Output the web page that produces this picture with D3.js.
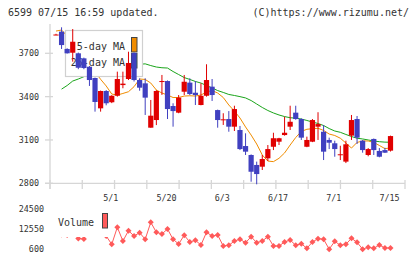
<!DOCTYPE html>
<html><head><meta charset="utf-8">
<script src="https://cdn.jsdelivr.net/npm/d3@7/dist/d3.min.js"></script>
<style>body{margin:0;background:#fff}svg{display:block}text{font-family:"DejaVu Sans Mono",monospace;fill:#333}</style>
</head><body>
<script>
const dates = ["4/16","4/17","4/20","4/21","4/22","4/23","4/24","4/27","4/28","4/30",
"5/1","5/7","5/8","5/11","5/12","5/13","5/14","5/15","5/18","5/19",
"5/20","5/21","5/22","5/25","5/26","5/27","5/28","5/29","6/1","6/2",
"6/3","6/4","6/5","6/8","6/9","6/10","6/11","6/12","6/15","6/16",
"6/17","6/18","6/19","6/22","6/23","6/24","6/25","6/26","6/29","6/30",
"7/1","7/2","7/3","7/6","7/7","7/8","7/9","7/10","7/13","7/14","7/15"];
const open  = [3830,3850,3730,3704,3700,3665,3607,3529,3319,3439,3361,3406,3480,3522,3702,3515,3492,3185,3238,3508,3508,3335,3289,3434,3497,3427,3342,3406,3469,3307,3243,3245,3192,3169,3058,2996,2927,2915,2973,3053,3088,3134,3192,3289,3245,3053,3088,3192,3157,3100,3077,3001,2950,3130,3245,3095,2996,3107,3024,3030,3026];
const high  = [3835,3880,3735,3868,3705,3670,3612,3532,3442,3445,3410,3573,3573,3711,3706,3527,3527,3377,3445,3550,3512,3354,3411,3550,3527,3508,3492,3624,3522,3310,3285,3300,3337,3197,3146,3000,2950,2996,3065,3150,3115,3261,3337,3337,3250,3123,3245,3292,3203,3116,3095,3060,3095,3273,3266,3100,3044,3110,3044,3046,3130];
const low   = [3826,3730,3698,3642,3590,3590,3474,3296,3296,3340,3355,3400,3458,3515,3505,3441,3273,3185,3203,3412,3245,3192,3285,3411,3411,3342,3340,3400,3370,3185,3204,3157,3162,3030,2996,2811,2793,2892,2954,3030,3065,3130,3169,3240,3100,3050,3085,3100,2961,3037,2984,2961,2940,3100,3072,3012,2987,2996,2980,3010,3020];
const close = [3830,3757,3700,3780,3600,3598,3515,3363,3439,3354,3406,3522,3490,3633,3515,3462,3393,3268,3439,3508,3314,3300,3393,3503,3418,3411,3406,3515,3411,3238,3243,3192,3314,3037,3019,2880,2864,2968,3037,3112,3112,3150,3226,3245,3116,3100,3238,3210,3019,3081,3037,3001,3070,3238,3116,3030,3037,3030,2984,3012,3127];
const ma5 = [3854,3861,3820,3790,3733,3687,3639,3571,3520,3474,3418,3411,3422,3434,3469,3522,3519,3494,3446,3425,3411,3394,3394,3404,3406,3404,3411,3432,3442,3425,3394,3342,3300,3252,3190,3134,3072,2996,2954,2950,2973,3010,3065,3117,3159,3174,3178,3181,3166,3141,3131,3112,3079,3044,3083,3093,3093,3083,3062,3040,3045];
const ma25 = [null,3452,3477,3508,3522,3538,3551,3562,3574,3583,3592,3600,3607,3613,3619,3624,3627,3615,3605,3600,3598,3574,3553,3532,3519,3505,3494,3477,3460,3442,3429,3415,3408,3400,3391,3373,3349,3325,3304,3287,3273,3262,3254,3251,3245,3235,3224,3214,3200,3179,3162,3153,3138,3124,3112,3107,3100,3093,3088,3085,3084];
const volume = [11000,9264,9000,13000,6870,6575,14000,16000,12500,8370,3410,13570,5380,11530,8370,10340,6400,16550,10580,9560,12550,6400,3590,8790,4780,5800,2990,10580,8370,8970,2390,2810,5380,6400,4360,7950,4360,5380,7950,2390,2390,4780,5980,2810,3770,1020,4780,6750,6400,500,5200,2810,3410,7000,4600,500,1620,1020,2990,1200,1200];
const priceTicks = [2800,3100,3400,3700];
const volTicks = [600,12550,24500];
const dateLabels = ["5/1","5/20","6/3","6/17","7/1","7/15"];
const maNames = ["5-day MA","25-day MA"];

const W=420,H=259;
const svg=d3.select("body").append("svg").attr("width",W).attr("height",H);
const x=d3.scalePoint().domain(dates).range([56,390.5]);
const y=d3.scaleLinear().domain([2800,3700]).range([183.3,53.3]);
const yv=d3.scaleLinear().domain([600,24500]).range([249,209]);
const frame=d3.scaleLinear().domain([0,11]).range([50,405]);
const axisCol="#d6d6d6", up="#e00000", down="#4040c0", orange="#f08c00", green="#1aa51a", volCol="#ff5a5a";

// header
svg.append("text").attr("x",8).attr("y",16).attr("font-size",10).text("6599 07/15 16:59 updated.");
svg.append("text").attr("x",409).attr("y",16).attr("font-size",10).attr("text-anchor","end").text("(C)https://www.rizumu.net/");

// axes frame
svg.append("line").attr("x1",50).attr("x2",50).attr("y1",24).attr("y2",189).attr("stroke",axisCol).attr("stroke-width",1.3);
svg.append("line").attr("x1",45).attr("x2",405).attr("y1",y(2800)).attr("y2",y(2800)).attr("stroke",axisCol).attr("stroke-width",1.3);
svg.selectAll(".ft").data(d3.range(12)).join("line").attr("x1",d=>frame(d)).attr("x2",d=>frame(d)).attr("y1",180).attr("y2",189).attr("stroke",axisCol).attr("stroke-width",1.3);
svg.selectAll(".yt").data(priceTicks).join("line").attr("x1",45).attr("x2",53).attr("y1",d=>y(d)).attr("y2",d=>y(d)).attr("stroke",axisCol).attr("stroke-width",1.3);
svg.selectAll(".yl").data(priceTicks).join("text").attr("x",39).attr("y",d=>y(d)+3).attr("font-size",8.4).attr("text-anchor","end").text(d=>d);
svg.selectAll(".xl").data(dateLabels).join("text").attr("x",d=>x(d)-1).attr("y",201).attr("font-size",8.4).attr("text-anchor","middle").text(d=>d);

// MA lines
const idx=d3.range(dates.length);
const lineOf=arr=>d3.line().defined(i=>arr[i]!=null).x(i=>x(dates[i])).y(i=>y(arr[i]));
svg.append("path").attr("d",lineOf(ma25)(idx)).attr("fill","none").attr("stroke",green).attr("stroke-width",1);
svg.append("path").attr("d",lineOf(ma5)(idx)).attr("fill","none").attr("stroke",orange).attr("stroke-width",1);

// legend
svg.append("rect").attr("x",65.5).attr("y",30.5).attr("width",77).attr("height",46).attr("fill","#fff").attr("stroke","#d0d0d0").attr("stroke-width",1.2);
[orange,green].forEach((c,k)=>{
  svg.append("text").attr("x",125).attr("y",50+k*16).attr("font-size",10).attr("text-anchor","end").text(maNames[k]);
  svg.append("rect").attr("x",131.5).attr("y",37.5+k*16).attr("width",5.5).attr("height",14.5).attr("fill",c).attr("stroke","#444").attr("stroke-width",1);
});

// candles
const g=svg.append("g");
idx.forEach(i=>{
  const cx=x(dates[i]), col=close[i]>=open[i]?up:down;
  g.append("line").attr("x1",cx).attr("x2",cx).attr("y1",y(high[i])).attr("y2",y(low[i])).attr("stroke",col).attr("stroke-width",1);
  const t=y(Math.max(open[i],close[i])), b=y(Math.min(open[i],close[i]));
  g.append("rect").attr("x",cx-2.6).attr("y",t).attr("width",5.2).attr("height",Math.max(b-t,1)).attr("fill",col);
});

// volume
svg.append("path").attr("d",d3.line().x(i=>x(dates[i])).y(i=>yv(volume[i]))(idx)).attr("fill","none").attr("stroke",volCol).attr("stroke-width",1);
svg.selectAll(".vp").data(idx).join("path").attr("d",d3.symbol(d3.symbolSquare,18)())
  .attr("transform",i=>`translate(${x(dates[i])},${yv(volume[i])}) rotate(45)`).attr("fill",volCol);
svg.append("rect").attr("x",52).attr("y",205).attr("width",58).attr("height",32).attr("fill","#fff");
svg.append("text").attr("x",58).attr("y",226).attr("font-size",10).text("Volume");
svg.append("rect").attr("x",102.5).attr("y",213.5).attr("width",5).attr("height",14.5).attr("fill",volCol).attr("stroke","#444").attr("stroke-width",1);
svg.selectAll(".vl").data(volTicks).join("text").attr("x",44).attr("y",d=>yv(d)+3).attr("font-size",8.4).attr("text-anchor","end").text(d=>d);
</script>
</body></html>
